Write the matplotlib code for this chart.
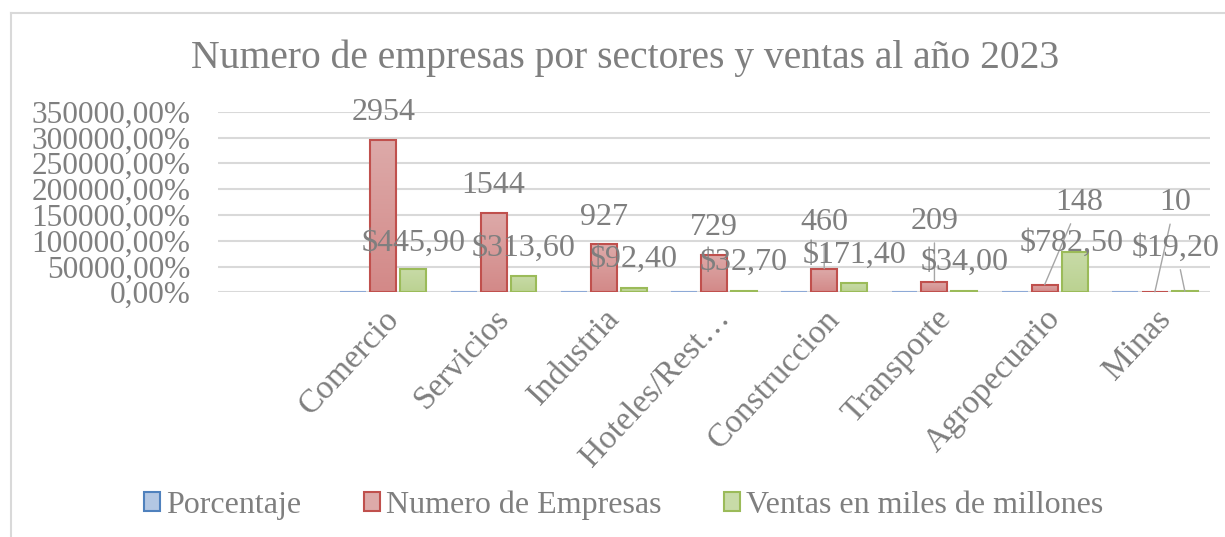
import numpy as np
import matplotlib
matplotlib.use('Agg')
import matplotlib.pyplot as plt
from matplotlib.ticker import FuncFormatter, MultipleLocator
from matplotlib.lines import Line2D
from matplotlib.patches import Patch
from matplotlib.colors import LinearSegmentedColormap

# =====================================
# 1. Data
# =====================================
sectores = ['Comercio', 'Servicios', 'Industria', 'Hoteles/Rest…',
            'Construccion', 'Transporte', 'Agropecuario', 'Minas']
porcentaje = [0.4231, 0.2212, 0.1328, 0.1044, 0.0659, 0.0299, 0.0212, 0.0014]
num_empresas = [2954, 1544, 927, 729, 460, 209, 148, 10]
ventas = [445.90, 313.60, 92.40, 32.70, 171.40, 34.00, 782.50, 19.20]

# label offsets in pixels (dx, dy) from the top of each bar, and leader lines
off_empresas = [(0, 27), (0, 27), (0, 27), (0, 27), (0, 46), (0, 60), (35, 82), (20, 89)]
lead_empresas = [False, False, False, False, True, True, True, True]
off_ventas = [(0, 26), (0, 28), (0, 28), (0, 28), (0, 28), (0, 28), (-3, 9), (-9, 43)]
lead_ventas = [False, False, False, False, False, False, False, True]

# =====================================
# 2. Style
# =====================================
plt.rcParams['font.family'] = ['Liberation Serif', 'DejaVu Serif']
grey = '#7F7F7F'
fs = 23

c_blue, e_blue = ('#B3C7E3', '#A3BCE0'), '#8DA9D6'
c_red, e_red = ('#DDAAA9', '#D38988'), '#C0504D'
c_green, e_green = ('#C8DBA8', '#BBD291'), '#9BBB59'

fig = plt.figure(figsize=(12.25, 5.37), dpi=100)
ax = fig.add_axes([218 / 1225, 1 - 292.3 / 537, (1210 - 218) / 1225, (292.3 - 111.7) / 537])

x = np.arange(len(sectores))
w = 0.235
step = 0.272


def gradient_bars(xs, vals, cols, edge, lw):
    bars = ax.bar(xs, vals, w, facecolor='none', edgecolor=edge, lw=lw, zorder=2)
    cmap = LinearSegmentedColormap.from_list('g', [cols[1], cols[0]])
    grad = np.linspace(0, 1, 64).reshape(-1, 1)
    for b in bars:
        x0, y0 = b.get_x(), b.get_y()
        im = ax.imshow(grad, cmap=cmap, origin='lower', aspect='auto',
                       extent=(x0, x0 + b.get_width(), y0, y0 + b.get_height()),
                       zorder=1.5)
        im.set_clip_path(b)
    return bars


gradient_bars(x - step, porcentaje, c_blue, e_blue, 1.5)
gradient_bars(x, num_empresas, c_red, e_red, 1.5)
gradient_bars(x + step, ventas, c_green, e_green, 1.5)

# =====================================
# 3. Data labels
# =====================================
def put_label(xv, yv, txt, off, lead):
    kw = dict(xy=(xv, yv), xytext=off, textcoords='offset pixels',
              ha='center', va='center', fontsize=fs, color=grey,
              annotation_clip=False, zorder=4)
    if lead:
        kw['arrowprops'] = dict(arrowstyle='-', color='#A6A6A6', lw=1.0,
                                shrinkA=3, shrinkB=0)
    ax.annotate(txt, **kw)

for i in range(len(sectores)):
    put_label(x[i], num_empresas[i], str(num_empresas[i]), off_empresas[i], lead_empresas[i])
    put_label(x[i] + step, ventas[i], '\\$' + f'{ventas[i]:.2f}'.replace('.', ','),
              off_ventas[i], lead_ventas[i])

# =====================================
# 4. Axes
# =====================================
ax.set_xlim(-1.5, len(sectores) - 0.5)
ax.set_ylim(0, 3500)
ax.yaxis.set_major_locator(MultipleLocator(500))
ax.yaxis.set_major_formatter(FuncFormatter(
    lambda v, p: f'{v * 100:.2f}'.replace('.', ',') + '%'))
ax.yaxis.grid(True, color='#D9D9D9', lw=1.5)
ax.set_axisbelow(True)
for s in ax.spines.values():
    s.set_visible(False)
ax.tick_params(axis='y', length=0, pad=20, labelsize=22.5, labelcolor=grey)
ax.tick_params(axis='x', length=0, pad=8, labelsize=24, labelcolor=grey)
ax.set_xticks(x)
ax.set_xticklabels(sectores, rotation=47, ha='right', va='top', rotation_mode='anchor')

# title
fig.text(0.51, 1 - 58 / 537, 'Numero de empresas por sectores y ventas al año 2023',
         ha='center', va='center', fontsize=28.5, color=grey)

# legend
handles = [Patch(facecolor=c_blue[0], edgecolor='#4F81BD', lw=1.5),
           Patch(facecolor=c_red[0], edgecolor=e_red, lw=1.5),
           Patch(facecolor=c_green[0], edgecolor=e_green, lw=1.5)]
names = ['Porcentaje', 'Numero de Empresas', 'Ventas en miles de millones']
fig.legend(handles, names, loc='center', bbox_to_anchor=(0.509, 1 - 505 / 537), ncol=3,
           frameon=False, fontsize=fs, labelcolor=grey, handlelength=0.5,
           handleheight=0.5, handletextpad=0.2, columnspacing=1.95)

# chart border (light grey, runs off right and bottom edges)
fig.add_artist(Line2D([11 / 1225, 1], [1 - 13 / 537] * 2, transform=fig.transFigure,
                      color='#D9D9D9', lw=1.5))
fig.add_artist(Line2D([11 / 1225] * 2, [0, 1 - 13 / 537], transform=fig.transFigure,
                      color='#D9D9D9', lw=1.5))

plt.savefig('out.png', dpi=100)
